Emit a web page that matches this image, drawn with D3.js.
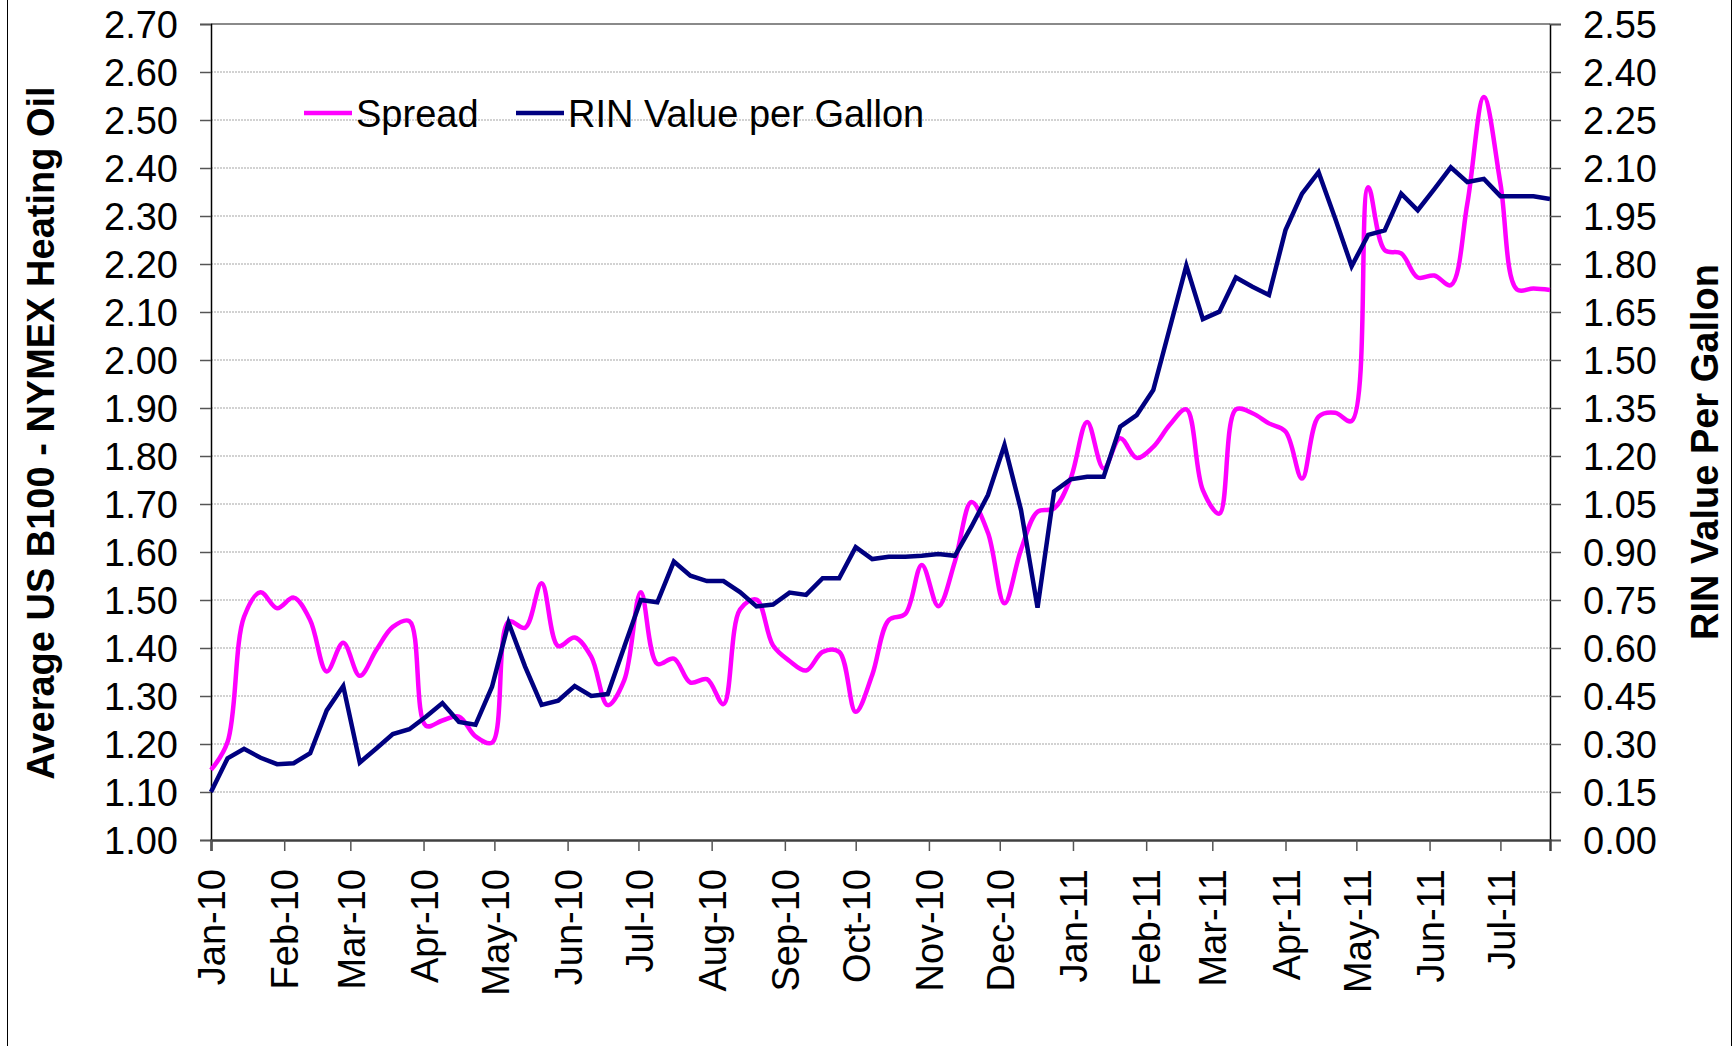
<!DOCTYPE html>
<html>
<head>
<meta charset="utf-8">
<script src="https://cdn.jsdelivr.net/npm/d3@7"></script>
<style>
  html, body { margin: 0; padding: 0; background: #fff; }
  svg { display: block; }
  text { font-family: "Liberation Sans", Arial, sans-serif; fill: #000; }
</style>
</head>
<body>
<svg id="chart" width="1735" height="1046"></svg>
<script>
// Weekly observation dates (Fridays)
const dates = [
  "2010-01-01","2010-01-08","2010-01-15","2010-01-22","2010-01-29",
  "2010-02-05","2010-02-12","2010-02-19","2010-02-26",
  "2010-03-05","2010-03-12","2010-03-19","2010-03-26",
  "2010-04-02","2010-04-09","2010-04-16","2010-04-23","2010-04-30",
  "2010-05-07","2010-05-14","2010-05-21","2010-05-28",
  "2010-06-04","2010-06-11","2010-06-18","2010-06-25",
  "2010-07-02","2010-07-09","2010-07-16","2010-07-23","2010-07-30",
  "2010-08-06","2010-08-13","2010-08-20","2010-08-27",
  "2010-09-03","2010-09-10","2010-09-17","2010-09-24",
  "2010-10-01","2010-10-08","2010-10-15","2010-10-22","2010-10-29",
  "2010-11-05","2010-11-12","2010-11-19","2010-11-26",
  "2010-12-03","2010-12-10","2010-12-17","2010-12-24","2010-12-31",
  "2011-01-07","2011-01-14","2011-01-21","2011-01-28",
  "2011-02-04","2011-02-11","2011-02-18","2011-02-25",
  "2011-03-04","2011-03-11","2011-03-18","2011-03-25",
  "2011-04-01","2011-04-08","2011-04-15","2011-04-22","2011-04-29",
  "2011-05-06","2011-05-13","2011-05-20","2011-05-27",
  "2011-06-03","2011-06-10","2011-06-17","2011-06-24",
  "2011-07-01","2011-07-08","2011-07-15","2011-07-22"
];

// Average US B100 - NYMEX Heating Oil spread ($/gal), left axis
const spread = [
  1.146,1.204,1.465,1.516,1.483,1.505,1.458,1.351,1.411,1.342,
  1.396,1.444,1.456,1.238,1.249,1.257,1.216,1.203,1.455,1.442,
  1.535,1.404,1.422,1.382,1.281,1.333,1.516,1.367,1.378,1.328,
  1.335,1.283,1.480,1.501,1.405,1.373,1.353,1.392,1.392,1.267,
  1.344,1.458,1.471,1.573,1.487,1.580,1.704,1.640,1.493,1.605,
  1.684,1.691,1.753,1.871,1.774,1.837,1.796,1.819,1.865,1.897,
  1.729,1.680,1.897,1.889,1.868,1.851,1.753,1.882,1.890,1.873,
  2.360,2.229,2.222,2.172,2.176,2.156,2.326,2.548,2.368,2.147,
  2.149,2.146
];

// RIN value per gallon ($), right axis
const rin = [
  0.150,0.255,0.285,0.257,0.237,0.240,0.271,0.405,0.481,0.242,
  0.286,0.331,0.346,0.385,0.428,0.369,0.360,0.479,0.679,0.542,
  0.422,0.435,0.481,0.450,0.456,0.604,0.750,0.743,0.870,0.826,
  0.809,0.809,0.775,0.730,0.736,0.773,0.766,0.818,0.818,0.915,
  0.878,0.885,0.885,0.888,0.894,0.888,0.979,1.078,1.234,1.031,
  0.726,1.089,1.127,1.135,1.135,1.292,1.328,1.406,1.600,1.795,
  1.628,1.651,1.758,1.729,1.703,1.906,2.020,2.087,1.943,1.793,
  1.891,1.905,2.020,1.968,2.034,2.102,2.056,2.066,2.012,2.012,
  2.012,2.003
];

const leftTicks = [1.00,1.10,1.20,1.30,1.40,1.50,1.60,1.70,1.80,1.90,2.00,2.10,2.20,2.30,2.40,2.50,2.60,2.70];
const rightTicks = [0.00,0.15,0.30,0.45,0.60,0.75,0.90,1.05,1.20,1.35,1.50,1.65,1.80,1.95,2.10,2.25,2.40,2.55];
const seriesNames = ["Spread", "RIN Value per Gallon"];
const leftTitle = "Average US B100 - NYMEX Heating Oil";
const rightTitle = "RIN Value Per Gallon";

const parse = d3.timeParse("%Y-%m-%d");
const dts = dates.map(parse);

const svg = d3.select("#chart");
const L = 211, R = 1550, T = 24, B = 840;
const FS = 38;

const x = d3.scaleTime().domain([dts[0], dts[dts.length - 1]]).range([L, R]);
const yL = d3.scaleLinear().domain([1.0, 2.7]).range([B, T]);
const yR = d3.scaleLinear().domain([0, 2.55]).range([B, T]);

// outer chart border (left/right edges)
svg.append("line").attr("x1", 7.5).attr("x2", 7.5).attr("y1", 0).attr("y2", 1046)
  .attr("stroke", "#000").attr("stroke-width", 1);
svg.append("line").attr("x1", 1731.5).attr("x2", 1731.5).attr("y1", 0).attr("y2", 1046)
  .attr("stroke", "#000").attr("stroke-width", 1);

// gridlines
svg.append("g").selectAll("line").data(leftTicks.slice(1)).join("line")
  .attr("x1", L).attr("x2", R)
  .attr("y1", d => yL(d)).attr("y2", d => yL(d))
  .attr("stroke", d => d === 2.70 ? "#8a8a8a" : "#a6a6a6")
  .attr("stroke-width", d => d === 2.70 ? 2 : 1.2)
  .attr("stroke-dasharray", d => d === 2.70 ? null : "2,1");

// left axis
const gL = svg.append("g").attr("transform", `translate(${L},0)`)
  .call(d3.axisLeft(yL).tickValues(leftTicks).tickFormat(d3.format(".2f")).tickSize(11).tickPadding(22));
gL.select(".domain").attr("stroke", "#000").attr("stroke-width", 1.5);
gL.selectAll(".tick line").attr("stroke", "#555").attr("stroke-width", 1.5);
gL.selectAll("text").style("font-size", FS + "px").attr("fill", "#000").attr("dy", "0.36em");

// right axis
const gR = svg.append("g").attr("transform", `translate(${R},0)`)
  .call(d3.axisRight(yR).tickValues(rightTicks).tickFormat(d3.format(".2f")).tickSize(11).tickPadding(22));
gR.select(".domain").attr("stroke", "#000").attr("stroke-width", 1.5);
gR.selectAll(".tick line").attr("stroke", "#555").attr("stroke-width", 1.5);
gR.selectAll("text").style("font-size", FS + "px").attr("fill", "#000").attr("dy", "0.36em");

// bottom axis
const gB = svg.append("g").attr("transform", `translate(0,${B})`)
  .call(d3.axisBottom(x).ticks(d3.timeMonth.every(1)).tickFormat(d3.timeFormat("%b-%y")).tickSize(11));
gB.select(".domain").attr("stroke", "#404040").attr("stroke-width", 2.5);
gB.selectAll(".tick line").attr("stroke", "#555").attr("stroke-width", 1.5);
gB.selectAll("text")
  .style("font-size", FS + "px").attr("fill", "#000")
  .attr("transform", "rotate(-90)")
  .attr("text-anchor", "end")
  .attr("x", -29).attr("y", 0).attr("dy", "0.36em");

// axis titles
svg.append("text")
  .attr("transform", `translate(54,433) rotate(-90)`)
  .attr("text-anchor", "middle")
  .style("font-size", FS + "px").style("font-weight", "bold")
  .text(leftTitle);
svg.append("text")
  .attr("transform", `translate(1718,452) rotate(-90)`)
  .attr("text-anchor", "middle")
  .style("font-size", FS + "px").style("font-weight", "bold")
  .text(rightTitle);

// series
const pink = "#FF00FF", navy = "#000080";
const spreadLine = d3.line().x((d, i) => x(dts[i])).y(d => yL(d)).curve(d3.curveCatmullRom.alpha(0.5));
const rinLine = d3.line().x((d, i) => x(dts[i])).y(d => yR(d)).curve(d3.curveLinear);

svg.append("path").datum(spread).attr("d", spreadLine)
  .attr("fill", "none").attr("stroke", pink).attr("stroke-width", 4.5)
  .attr("stroke-linejoin", "round");
svg.append("path").datum(rin).attr("d", rinLine)
  .attr("fill", "none").attr("stroke", navy).attr("stroke-width", 4.5)
  .attr("stroke-linejoin", "miter");

// legend
const legend = svg.append("g");
const legItems = [
  { name: seriesNames[0], color: pink, x0: 304 },
  { name: seriesNames[1], color: navy, x0: 516 }
];
legItems.forEach(it => {
  legend.append("line").attr("x1", it.x0).attr("x2", it.x0 + 48).attr("y1", 113).attr("y2", 113)
    .attr("stroke", it.color).attr("stroke-width", 4.5);
  legend.append("text").attr("x", it.x0 + 52).attr("y", 113).attr("dy", "0.36em")
    .style("font-size", FS + "px").text(it.name);
});
</script>
</body>
</html>
